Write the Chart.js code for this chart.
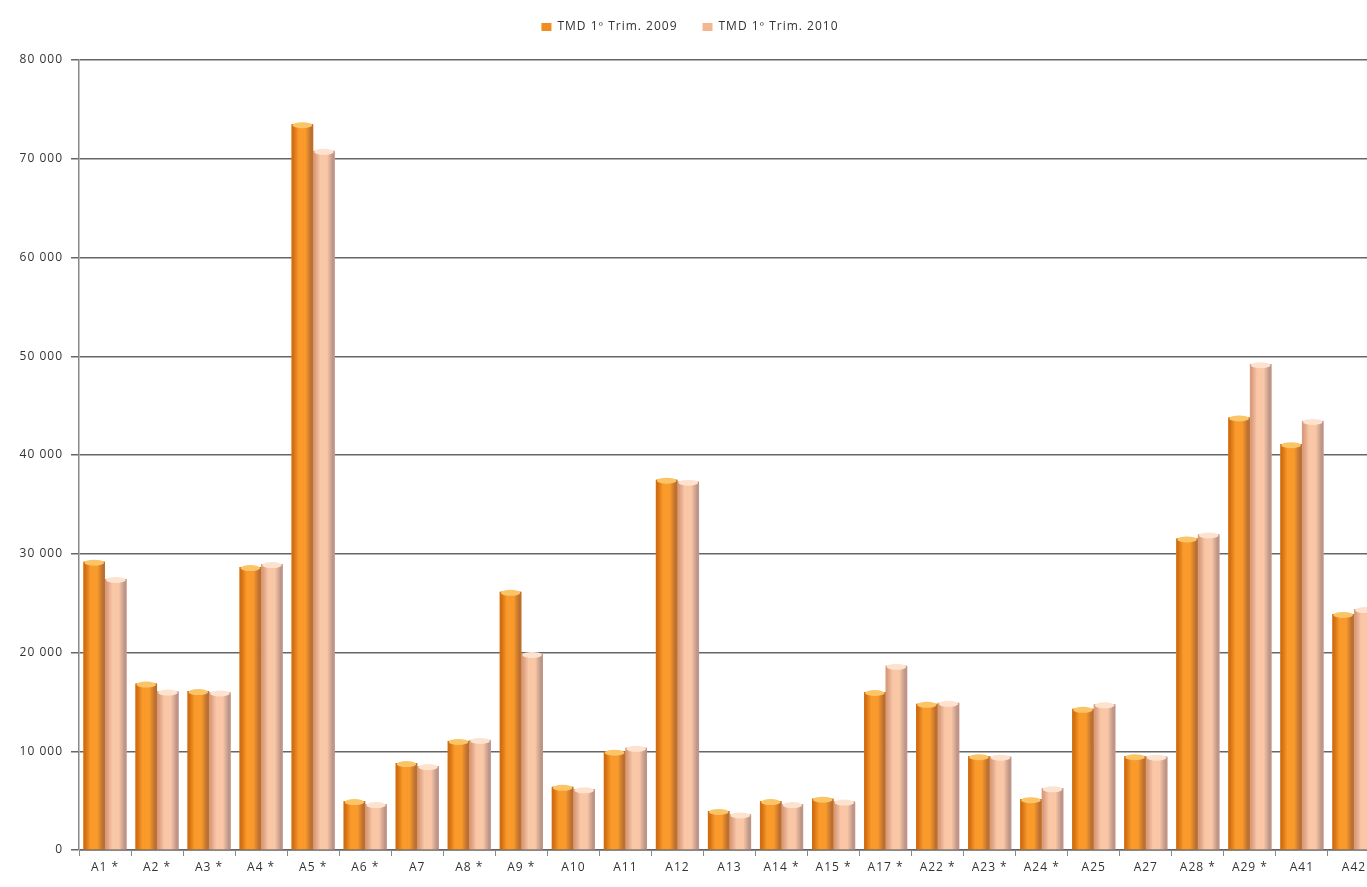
<!DOCTYPE html>
<html>
<head>
<meta charset="utf-8">
<script src="https://cdn.jsdelivr.net/npm/chart.js@4/dist/chart.umd.min.js"></script>
<style>
  html, body { margin: 0; padding: 0; background: #ffffff; overflow: hidden; }
  #wrap { position: absolute; left: 0; top: 0; width: 1391px; height: 887px; }
</style>
</head>
<body>
<div id="wrap"><canvas id="c"></canvas></div>
<script>
const categories = ["A1 *", "A2 *", "A3 *", "A4 *", "A5 *", "A6 *", "A7", "A8 *", "A9 *", "A10", "A11", "A12", "A13", "A14 *", "A15 *", "A17 *", "A22 *", "A23 *", "A24 *", "A25", "A27", "A28 *", "A29 *", "A41", "A42"];
const tmd2009 = [29200, 16850, 16100, 28650, 73500, 4950, 8800, 11050, 26150, 6400, 9950, 37500, 3950, 4950, 5200, 16000, 14800, 9500, 5150, 14300, 9500, 31550, 43800, 41100, 23900];
const tmd2010 = [27450, 16050, 15950, 28950, 70800, 4650, 8500, 11150, 19850, 6150, 10350, 37300, 3600, 4650, 4900, 18650, 14900, 9450, 6250, 14750, 9450, 31950, 49200, 43450, 24400];
const seriesNames = ["TMD 1º Trim. 2009", "TMD 1º Trim. 2010"];
const yTicks = [0, 10000, 20000, 30000, 40000, 50000, 60000, 70000, 80000];

const baseColors = ["#f28c1e", "#f3b691"];
const shades = [
  { edgeL: "#d26e12", mid: "#f99a2a", edgeR: "#bb7032", cap: "#fbc466" },
  { edgeL: "#da9c7e", mid: "#f9c6a6", edgeR: "#bd9689", cap: "#fde3cf" }
];

const FONT = "'Open Sans'";

const spacingPlugin = {
  id: "spacing",
  beforeUpdate(chart) { chart.ctx.letterSpacing = "1px"; },
  beforeDraw(chart) { chart.ctx.letterSpacing = "1px"; },
  afterLayout(chart) {
    if (chart.legend) { chart.legend.top -= 17; chart.legend.bottom -= 17; }
  }
};

const cylinderPlugin = {
  id: "cylinder",
  afterDatasetDraw(chart, args) {
    const ctx = chart.ctx;
    const s = shades[args.index];
    const meta = args.meta;
    ctx.save();
    const area = chart.chartArea;
    ctx.beginPath();
    ctx.rect(area.left, area.top - 10, area.right - area.left, area.bottom - area.top + 10);
    ctx.clip();
    meta.data.forEach(el => {
      const p = el.getProps(["x", "y", "base", "width"], true);
      const l = p.x - p.width / 2, r = p.x + p.width / 2;
      const g = ctx.createLinearGradient(l, 0, r, 0);
      g.addColorStop(0, s.edgeL);
      g.addColorStop(0.08, s.edgeL);
      g.addColorStop(0.33, s.mid);
      g.addColorStop(0.64, s.mid);
      g.addColorStop(0.9, s.edgeR);
      g.addColorStop(1, s.edgeR);
      ctx.fillStyle = g;
      ctx.fillRect(l, p.y, p.width, p.base - p.y);
      ctx.fillStyle = s.cap;
      ctx.beginPath();
      ctx.ellipse(p.x, p.y + 1, p.width / 2 - 1, 3, 0, 0, Math.PI * 2);
      ctx.fill();
    });
    ctx.restore();
  }
};

const fmt = v => String(v).replace(/\B(?=(\d{3})+(?!\d))/g, " ");

new Chart(document.getElementById("c"), {
  type: "bar",
  data: {
    labels: categories,
    datasets: [
      { label: seriesNames[0], data: tmd2009, backgroundColor: baseColors[0], borderWidth: 0 },
      { label: seriesNames[1], data: tmd2010, backgroundColor: baseColors[1], borderWidth: 0 }
    ]
  },
  options: {
    responsive: true,
    maintainAspectRatio: false,
    animation: false,
    layout: { padding: { top: 13, right: 11, left: 0, bottom: 0 } },
    datasets: { bar: { categoryPercentage: 0.83, barPercentage: 1.0 } },
    plugins: {
      legend: {
        position: "top",
        labels: {
          font: { family: FONT, size: 12 },
          color: "#333333",
          boxWidth: 10,
          boxHeight: 8,
          padding: 25
        }
      },
      tooltip: { enabled: false }
    },
    scales: {
      x: {
        offset: true,
        grid: { offset: true, drawOnChartArea: false, drawTicks: true, tickLength: 6, color: "#888888", lineWidth: 1 },
        border: { display: true, color: "#888888", width: 1 },
        ticks: { font: { family: FONT, size: 12 }, color: "#333333", maxRotation: 0, autoSkip: false, padding: 4 },
        afterFit(scale) { scale.height = 37; }
      },
      y: {
        min: 0,
        max: 80000,
        afterBuildTicks(scale) { scale.ticks = yTicks.map(v => ({ value: v })); },
        grid: { color: "#666666", lineWidth: 1.5, tickLength: 8, drawTicks: true },
        border: { display: true, color: "#888888", width: 1.5 },
        ticks: { font: { family: FONT, size: 12 }, color: "#333333", padding: 8, callback: v => fmt(v) },
        afterFit(scale) { scale.width = 79; }
      }
    }
  },
  plugins: [spacingPlugin, cylinderPlugin]
});
</script>
</body>
</html>
